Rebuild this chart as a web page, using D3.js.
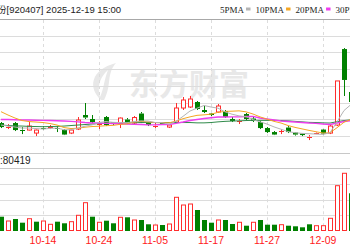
<!DOCTYPE html>
<html>
<head>
<meta charset="utf-8">
<script src="https://cdn.jsdelivr.net/npm/d3@7"></script>
<style>
  body { margin: 0; background: #fff; overflow: hidden; }
  svg { display: block; }
</style>
</head>
<body>
<svg id="kline" width="350" height="250"></svg>
<script>
// trading days shown (the crop cuts the chart at 12-15)
const dates = ["09-26","09-29","09-30","10-09","10-10","10-13","10-14","10-15","10-16","10-17",
  "10-20","10-21","10-22","10-23","10-24","10-27","10-28","10-29","10-30","10-31",
  "11-03","11-04","11-05","11-06","11-07","11-10","11-11","11-12","11-13","11-14",
  "11-17","11-18","11-19","11-20","11-21","11-24","11-25","11-26","11-27","11-28",
  "12-01","12-02","12-03","12-04","12-05","12-08","12-09","12-10","12-11","12-12","12-15"];

const open = [21.77,21.53,21.77,21.38,21.35,21.17,21.50,21.47,21.47,21.35,
  21.17,21.41,22.25,22.01,21.71,22.13,21.80,21.74,21.98,21.77,
  22.34,21.77,21.56,21.79,21.53,21.83,22.67,22.73,23.03,22.55,
  22.34,22.43,22.49,22.01,21.86,22.31,22.04,21.83,21.47,21.23,
  21.23,21.50,21.20,21.14,20.90,21.14,21.38,21.17,21.65,26.20,23.63];
const close = [21.53,21.56,21.35,21.32,21.59,21.35,21.44,21.53,21.41,21.08,
  21.35,21.95,22.10,21.83,21.74,21.65,21.71,22.07,21.77,22.10,
  21.83,21.65,21.62,21.75,21.65,22.67,23.15,23.21,22.61,22.43,
  22.25,22.79,22.13,21.89,21.92,22.01,21.89,21.47,21.23,21.08,
  21.29,21.23,21.08,21.05,20.96,21.20,21.14,21.59,24.29,24.35,23.03];
const high = [21.83,21.71,21.83,21.53,21.83,21.38,21.59,21.65,21.59,21.41,
  21.41,22.13,22.97,22.25,21.89,22.19,21.83,22.10,22.07,22.19,
  22.43,21.83,21.77,21.83,21.71,22.97,23.33,23.39,23.09,22.79,
  22.37,22.91,22.55,22.13,22.01,22.37,22.13,21.89,21.53,21.29,
  21.41,21.59,21.23,21.17,21.05,21.23,21.41,21.65,24.29,26.26,23.75];
const low = [21.47,21.41,21.29,21.11,21.32,20.99,21.38,21.41,21.23,21.05,
  21.11,21.35,22.01,21.77,21.41,21.59,21.65,21.47,21.71,21.71,
  21.77,21.59,21.47,21.71,21.47,21.77,22.55,22.67,22.55,22.37,
  22.19,22.37,22.07,21.83,21.71,21.95,21.83,21.41,21.17,21.05,
  21.11,21.17,21.02,20.99,20.75,21.11,21.08,21.11,21.59,23.39,22.91];

const volume = [45600,31900,38300,26500,39200,29700,31900,21400,29700,24600,
  29700,50100,90300,45600,27800,32900,24600,43700,43700,35100,
  35100,21400,19100,19100,22300,107500,82900,86100,67000,35100,
  26500,35100,35100,22300,27800,16900,27800,35100,20100,20100,
  20100,16900,15000,11800,21400,16900,16900,40500,144500,184100,120300];
// 1 = red (up) volume bar, 0 = green
const volUp = [0,1,0,0,1,0,1,1,0,0, 1,1,1,0,1,0,0,1,0,1,
  0,0,1,0,1,1,1,1,0,0, 0,1,0,0,1,0,1,0,0,0,
  1,0,0,0,0,1,1,1,1,1,0];

const ma5 = [21.65,21.59,21.53,21.47,21.47,21.44,21.41,21.45,21.47,21.37,
  21.37,21.47,21.58,21.66,21.80,21.86,21.81,21.80,21.79,21.86,
  21.90,21.89,21.80,21.79,21.70,21.87,22.17,22.49,22.66,22.82,
  22.73,22.66,22.44,22.30,22.20,22.15,21.97,21.84,21.71,21.54,
  21.40,21.26,21.19,21.15,21.13,21.11,21.09,21.19,21.84,22.52,22.88];
const ma10 = [22.45,22.25,22.07,21.92,21.86,21.83,21.80,21.74,21.65,21.50,
  21.44,21.46,21.52,21.56,21.58,21.61,21.63,21.69,21.72,21.83,
  21.87,21.84,21.80,21.79,21.78,21.89,22.03,22.14,22.23,22.26,
  22.30,22.41,22.47,22.48,22.50,22.44,22.31,22.14,22.00,21.87,
  21.77,21.62,21.51,21.42,21.33,21.25,21.17,21.19,21.49,21.82,21.99];
const ma20 = [21.98,21.98,21.97,21.95,21.95,21.94,21.93,21.92,21.91,21.89,
  21.87,21.84,21.80,21.77,21.77,21.75,21.74,21.72,21.71,21.69,
  21.68,21.66,21.66,21.68,21.68,21.75,21.83,21.92,21.98,22.04,
  22.09,22.13,22.13,22.14,22.14,22.16,22.17,22.07,22.01,21.95,
  21.89,21.86,21.83,21.80,21.77,21.75,21.71,21.68,21.77,21.86,21.92];
const ma30 = [21.65,21.62,21.60,21.59,21.57,21.56,21.55,21.56,21.57,21.59,
  21.62,21.65,21.68,21.71,21.74,21.76,21.77,21.77,21.78,21.79,
  21.80,21.80,21.80,21.80,21.80,21.80,21.80,21.80,21.78,21.78,
  21.80,21.84,21.87,21.89,21.90,21.92,21.93,21.93,21.93,21.93,
  21.92,21.90,21.87,21.84,21.81,21.80,21.78,21.77,21.85,21.92,21.96];

const tickDates = ["10-14","10-24","11-05","11-17","11-27","12-09"];
const legendLabels = ["5PMA","10PMA","20PMA","30PMA"];
const lastVolume = 80419;

const RED = "#ff2d2d", GREEN = "#008000";
const maColors = ["#b4b4b4", "#f5a623", "#ee3eee", "#2f8a4a"];
const GRID = "#dcdcdc";

const svg = d3.select("#kline");
const W = 350;
const PT = 19, PB = 152.6;          // price panel
const VH = 168.3, VB = 231;         // volume panel

const x = d3.scalePoint().domain(dates).range([1, 351]);
const y = d3.scaleLinear().domain([20, 28]).range([PB, PT]);
const yv = d3.scaleLinear().domain([0, 200000]).range([VB, VH]);
const crisp = v => Math.round(v) + 0.5;

// watermark
const wm = svg.append("g").attr("fill", "#e8e8e8");
wm.append("path")
  .attr("d", "M101,100 C88,88 90,70 116,63 C106,74 112,86 104,100 Z M100,97 C97,86 100,77 108,70 C104,80 104,88 100,97 Z")
  .attr("fill-rule", "evenodd");
wm.append("text").attr("x", 129).attr("y", 95)
  .attr("font-family", "'Noto Sans CJK SC', sans-serif").attr("font-weight", 700)
  .attr("font-size", 30).text("东方财富");

// horizontal grid, price panel
svg.append("g").selectAll("line").data(d3.range(21, 28)).join("line")
  .attr("x1", 0).attr("x2", W)
  .attr("y1", d => crisp(y(d))).attr("y2", d => crisp(y(d)))
  .attr("stroke", GRID);
svg.append("line").attr("x1", 0).attr("x2", W).attr("y1", crisp(PT)).attr("y2", crisp(PT))
  .attr("stroke", "#a8a8a8");
svg.append("line").attr("x1", 0).attr("x2", W).attr("y1", crisp(PB)).attr("y2", crisp(PB))
  .attr("stroke", "#c8c8c8");

// horizontal grid, volume panel
svg.append("g").selectAll("line").data([50000, 100000, 150000, 200000]).join("line")
  .attr("x1", 0).attr("x2", W)
  .attr("y1", d => crisp(yv(d))).attr("y2", d => crisp(yv(d)))
  .attr("stroke", d => d === 200000 ? "#c8c8c8" : GRID);

// vertical dashed lines at the date ticks
const vg = svg.append("g").attr("stroke", GRID).attr("stroke-dasharray", "3,3");
for (const t of tickDates) {
  const xx = crisp(x(t));
  vg.append("line").attr("x1", xx).attr("x2", xx).attr("y1", PT + 1).attr("y2", PB);
  vg.append("line").attr("x1", xx).attr("x2", xx).attr("y1", VH + 1).attr("y2", VB);
}

// candles
const cg = svg.append("g");
dates.forEach((d, i) => {
  const cx = Math.round(x(d));
  const up = close[i] >= open[i];
  const col = up ? RED : GREEN;
  const yo = y(open[i]), yc = y(close[i]), yh = y(high[i]), yl = y(low[i]);
  const top = Math.min(yo, yc), bot = Math.max(yo, yc);
  const bh = bot - top;
  cg.append("line").attr("x1", cx + 0.5).attr("x2", cx + 0.5)
    .attr("y1", yh).attr("y2", top).attr("stroke", col);
  cg.append("line").attr("x1", cx + 0.5).attr("x2", cx + 0.5)
    .attr("y1", bot).attr("y2", yl).attr("stroke", col);
  if (bh < 1.2) {
    cg.append("line").attr("x1", cx - 2).attr("x2", cx + 3)
      .attr("y1", crisp(top)).attr("y2", crisp(top)).attr("stroke", col);
  } else if (up) {
    cg.append("rect").attr("x", cx - 1.5).attr("y", top).attr("width", 4).attr("height", bh)
      .attr("fill", "#fff").attr("stroke", col);
  } else {
    cg.append("rect").attr("x", cx - 2).attr("y", top).attr("width", 5).attr("height", bh)
      .attr("fill", col);
  }
});

// moving averages
const line = d3.line().x((v, i) => x(dates[i])).y(v => y(v));
[ma30, ma20, ma10, ma5].forEach((s, k) => {
  svg.append("path").datum(s).attr("d", line).attr("fill", "none")
    .attr("stroke", maColors[3 - k]).attr("stroke-width", k === 1 ? 1.4 : 1);
});

// volume bars
const bg = svg.append("g");
dates.forEach((d, i) => {
  const cx = Math.round(x(d));
  const top = yv(volume[i]);
  if (volUp[i]) {
    bg.append("rect").attr("x", cx - 1.5).attr("y", top).attr("width", 4).attr("height", VB - top - 0.5)
      .attr("fill", "#fff").attr("stroke", RED);
  } else {
    bg.append("rect").attr("x", cx - 2).attr("y", top).attr("width", 5).attr("height", VB - top)
      .attr("fill", GREEN);
  }
});

// volume header band
svg.append("text").attr("x", 0).attr("y", 164)
  .attr("font-family", "'Liberation Sans', Arial, sans-serif").attr("font-size", 10)
  .attr("fill", "#222").text(":" + lastVolume);

// date labels
svg.append("g").selectAll("text").data(tickDates).join("text")
  .attr("x", d => x(d)).attr("y", 244).attr("text-anchor", "middle")
  .attr("font-family", "'Liberation Sans', Arial, sans-serif").attr("font-size", 10.5)
  .attr("fill", "#ff1a1a").text(d => d);

// title
svg.append("text").attr("x", -3).attr("y", 13)
  .attr("font-family", "'Liberation Sans', 'Noto Sans CJK SC', sans-serif").attr("font-size", 9.5)
  .attr("fill", "#222").text("份[920407] 2025-12-19 15:00");

// legend
let lx = 220;
legendLabels.forEach((lab, k) => {
  const t = svg.append("text").attr("x", lx).attr("y", 13)
    .attr("font-family", "'Liberation Serif', serif").attr("font-size", 9)
    .attr("fill", "#222").text(lab);
  const w = t.node().getComputedTextLength();
  svg.append("rect").attr("x", lx + w + 2).attr("y", 7.5).attr("width", 4.5).attr("height", 3)
    .attr("fill", maColors[k]);
  lx += w + 2 + 4.5 + 5;
});
</script>
</body>
</html>
